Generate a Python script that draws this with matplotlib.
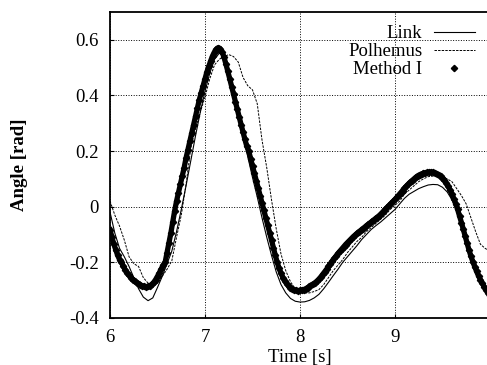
import numpy as np
import matplotlib
matplotlib.use("Agg")
from matplotlib import pyplot as plt

plt.rcParams["font.family"] = ["Liberation Serif", "DejaVu Serif"]
plt.rcParams["font.size"] = 13.5

# Method I, sampled every 0.02 s from 6.00 s
t_method = np.arange(6.0, 10.001, 0.02)
method = [
    -0.083, -0.11, -0.135, -0.155, -0.175, -0.19, -0.20, -0.215, -0.227, -0.238,
    -0.247, -0.255, -0.262, -0.268, -0.273, -0.278, -0.282, -0.285, -0.287, -0.288,
    -0.287, -0.284, -0.279, -0.272, -0.262, -0.25, -0.237, -0.223, -0.21, -0.20,
    -0.165, -0.13, -0.095, -0.055, -0.015, 0.02, 0.05, 0.08, 0.11, 0.14,
    0.175, 0.205, 0.235, 0.265, 0.295, 0.325, 0.355, 0.385, 0.41, 0.435,
    0.46, 0.485, 0.505, 0.525, 0.543, 0.557, 0.567, 0.572, 0.568, 0.556,
    0.537, 0.513, 0.487, 0.46, 0.432, 0.405, 0.378, 0.35, 0.322, 0.295,
    0.268, 0.242, 0.217, 0.20, 0.173, 0.146, 0.12, 0.093, 0.067, 0.04,
    0.013, -0.013, -0.04, -0.067, -0.093, -0.12, -0.148, -0.175, -0.2, -0.222,
    -0.24, -0.255, -0.267, -0.277, -0.285, -0.291, -0.296, -0.299, -0.301, -0.302,
    -0.301, -0.300, -0.298, -0.295, -0.291, -0.287, -0.283, -0.278, -0.273, -0.267,
    -0.26, -0.252, -0.243, -0.234, -0.225, -0.215, -0.205, -0.195, -0.186, -0.177,
    -0.168, -0.16, -0.152, -0.144, -0.136, -0.129, -0.122, -0.115, -0.108, -0.102,
    -0.096, -0.09, -0.085, -0.079, -0.074, -0.068, -0.063, -0.058, -0.052, -0.047,
    -0.041, -0.036, -0.03, -0.023, -0.016, -0.009, -0.002, 0.005, 0.012, 0.019,
    0.026, 0.034, 0.042, 0.05, 0.058, 0.066, 0.074, 0.081, 0.088, 0.094,
    0.1, 0.106, 0.111, 0.115, 0.118, 0.12, 0.122, 0.123, 0.124, 0.124,
    0.123, 0.121, 0.118, 0.114, 0.109, 0.103, 0.095, 0.085, 0.073, 0.06,
    0.045, 0.028, 0.01, -0.01, -0.033, -0.057, -0.082, -0.107, -0.132, -0.156,
    -0.178, -0.198, -0.216, -0.233, -0.249, -0.263, -0.276, -0.288, -0.299, -0.31,
    -0.32,
]

# Link and Polhemus, sampled every 0.05 s from 6.00 s
t_slow = np.arange(6.0, 10.001, 0.05)
link = [
    -0.02, -0.095, -0.15, -0.18, -0.215, -0.255, -0.295, -0.325, -0.338, -0.328,
    -0.29, -0.25, -0.205, -0.16, -0.09, -0.01, 0.075, 0.165, 0.255, 0.34,
    0.415, 0.48, 0.53, 0.552, 0.54, 0.49, 0.415, 0.335, 0.255, 0.18,
    0.105, 0.035, -0.04, -0.11, -0.175, -0.235, -0.28, -0.31, -0.33, -0.34,
    -0.343, -0.342, -0.337, -0.328, -0.315, -0.295, -0.272, -0.248, -0.225, -0.2,
    -0.18, -0.16, -0.14, -0.118, -0.1, -0.082, -0.068, -0.055, -0.04, -0.025,
    -0.01, 0.01, 0.03, 0.045, 0.055, 0.065, 0.072, 0.078, 0.08, 0.079,
    0.07, 0.053, 0.025, -0.01, -0.06, -0.12, -0.175, -0.225, -0.265, -0.3,
    -0.33,
]
polhemus = [
    0.02, -0.03, -0.07, -0.12, -0.18, -0.205, -0.215, -0.255, -0.275, -0.285,
    -0.275, -0.25, -0.225, -0.195, -0.11, -0.03, 0.08, 0.21, 0.28, 0.34,
    0.395, 0.46, 0.51, 0.53, 0.54, 0.547, 0.54, 0.52, 0.465, 0.435,
    0.42, 0.37, 0.24, 0.14, 0.025, -0.08, -0.17, -0.23, -0.27, -0.295,
    -0.305, -0.31, -0.31, -0.305, -0.298, -0.28, -0.255, -0.23, -0.21, -0.19,
    -0.165, -0.145, -0.125, -0.11, -0.09, -0.075, -0.06, -0.045, -0.03, -0.01,
    0.005, 0.02, 0.045, 0.06, 0.075, 0.09, 0.1, 0.108, 0.11, 0.11,
    0.108, 0.1, 0.09, 0.065, 0.04, 0.01, -0.04, -0.09, -0.135, -0.15,
    -0.16,
]

fig = plt.figure(figsize=(4.87, 3.65), dpi=100)
ax = fig.add_axes([0.226, 0.129, 0.78, 0.838])

ax.plot(t_slow, link, color="black", lw=0.8, label="Link")
ax.plot(t_slow, polhemus, color="black", lw=0.7, ls=(0, (2.5, 1.2)),
        label="Polhemus")
# thick trace under the diamonds so the dense samples read as one band
ax.plot(t_method, method, color="black", lw=3.8)
ax.plot(t_method, method, ls="none", marker="D", ms=3.2, color="black",
        label="Method I")

ax.set_xlim(6, 10)
ax.set_ylim(-0.4, 0.7)
ax.set_xticks([6, 7, 8, 9])
ax.set_yticks([-0.4, -0.2, 0, 0.2, 0.4, 0.6])
ax.set_yticklabels(["-0.4", "-0.2", "0", "0.2", "0.4", "0.6"])
ax.grid(True, color="black", ls=":", lw=0.7)
ax.tick_params(direction="in", length=3, pad=8)
for s in ax.spines.values():
    s.set_linewidth(1.3)

ax.set_xlabel("Time [s]", labelpad=2)
ax.set_ylabel("Angle [rad]", fontweight="bold", labelpad=30)

ax.legend(loc="upper right", frameon=False, markerfirst=False, numpoints=1,
          handlelength=2.2, handletextpad=0.6, labelspacing=0.05,
          borderaxespad=0.3, bbox_to_anchor=(0.995, 1.0))

fig.savefig("out.png", dpi=100)
